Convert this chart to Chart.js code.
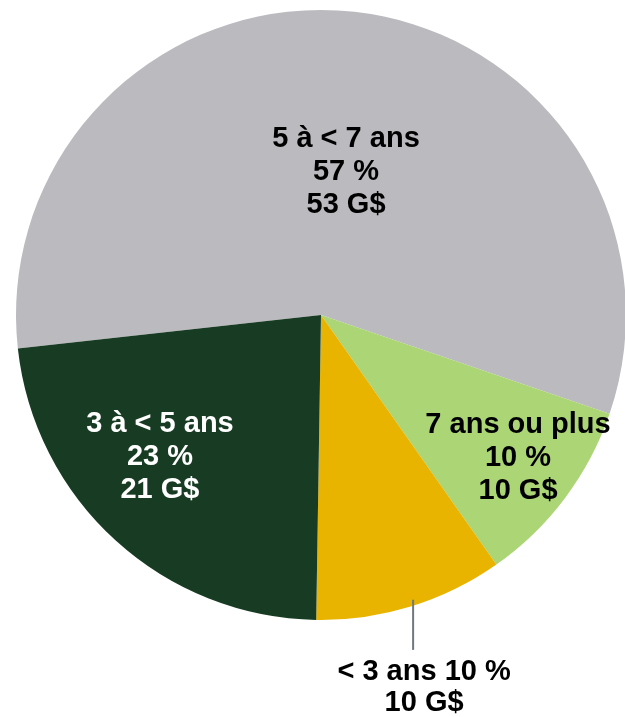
<!DOCTYPE html>
<html>
<head>
<meta charset="utf-8">
<script src="https://cdn.jsdelivr.net/npm/chart.js@4.4.0/dist/chart.umd.min.js"></script>
<style>
  html, body { margin: 0; padding: 0; background: #ffffff; overflow: hidden; }
  #wrap { position: relative; width: 626px; height: 717px; }
</style>
</head>
<body>
<div id="wrap"><canvas id="myChart"></canvas></div>
<script>
// Chart data
const categories = ['5 à < 7 ans', '7 ans ou plus', '< 3 ans', '3 à < 5 ans'];
const percentValues = [57, 10, 10, 23];
const amountValues = [53, 10, 10, 21]; // G$
const sliceColors = ['#BBBABF', '#ACD576', '#E8B400', '#183C23'];
const labelColors = ['#000000', '#000000', '#000000', '#ffffff'];

// Label placement, in units of the pie radius (dx, dy from centre of middle line)
const labelOffsets = [[0.082, -0.469], [0.646, 0.469], null, [-0.528, 0.466]];

// Draws the text labels on/around the slices
const sliceLabels = {
    id: 'sliceLabels',
    afterDatasetsDraw(chart) {
        const ctx = chart.ctx;
        const arcs = chart.getDatasetMeta(0).data;
        const cx = arcs[0].x, cy = arcs[0].y, r = arcs[0].outerRadius;
        const lineH = 0.107 * r;
        ctx.save();
        ctx.font = 'bold 29px "Liberation Sans", Arial, sans-serif';
        ctx.textAlign = 'center';
        ctx.textBaseline = 'middle';
        categories.forEach((cat, i) => {
            const lines = [cat, percentValues[i] + ' %', amountValues[i] + ' G$'];
            ctx.fillStyle = labelColors[i];
            if (labelOffsets[i]) {
                let x = cx + labelOffsets[i][0] * r;
                let y = cy + labelOffsets[i][1] * r;
                lines.forEach((t, k) => ctx.fillText(t, x, y + (k - 1) * lineH));
            } else {
                // outside label with leader line
                let lx = cx + 0.302 * r;
                let top = cy + Math.sqrt(r * r - (0.302 * r) ** 2) - 6;
                ctx.strokeStyle = '#707780';
                ctx.lineWidth = 2;
                ctx.beginPath();
                ctx.moveTo(lx, top);
                ctx.lineTo(lx, cy + 1.098 * r);
                ctx.stroke();
                let tx = cx + 0.338 * r;
                ctx.fillText(lines[0] + ' ' + lines[1], tx, cy + 1.172 * r);
                ctx.fillText(lines[2], tx, cy + 1.272 * r);
            }
        });
        ctx.restore();
    }
};

let ctx = document.getElementById('myChart').getContext('2d');

let chart = new Chart(ctx, {
    type: 'pie',
    data: {
        labels: categories,
        datasets: [{
            data: percentValues,
            backgroundColor: sliceColors,
            borderWidth: 0
        }]
    },
    options: {
        responsive: true,
        maintainAspectRatio: false,
        animation: false,
        rotation: 263.7,
        layout: { padding: { left: 16, right: 0, top: 10, bottom: 97 } },
        plugins: {
            legend: { display: false },
            tooltip: { enabled: false }
        }
    },
    plugins: [sliceLabels]
});
</script>
</body>
</html>
